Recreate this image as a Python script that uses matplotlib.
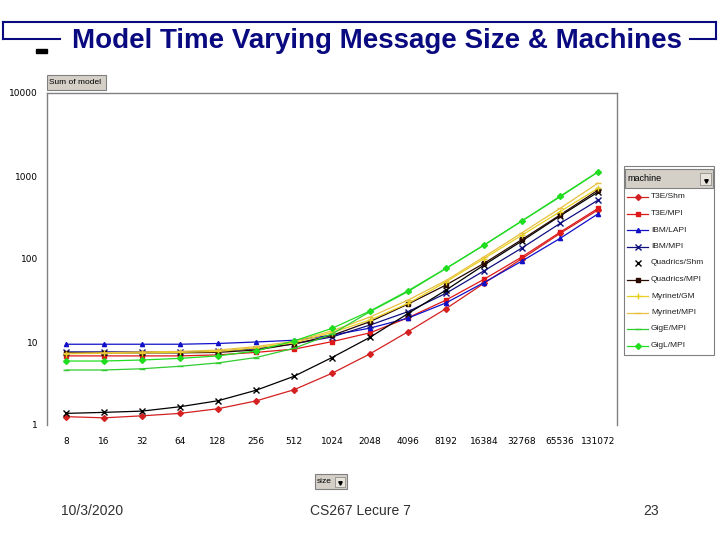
import matplotlib
matplotlib.use('Agg')
import matplotlib.pyplot as plt
from matplotlib.patches import Rectangle

# message sizes (categories on x axis)
sizes = [8, 16, 32, 64, 128, 256, 512, 1024, 2048, 4096, 8192, 16384, 32768, 65536, 131072]

machines = ["T3E/Shm", "T3E/MPI", "IBM/LAPI", "IBM/MPI", "Quadrics/Shm",
            "Quadrics/MPI", "Myrinet/GM", "Myrinet/MPI", "GigE/MPI", "GigL/MPI"]

t3e_shm = [1.26, 1.22, 1.29, 1.38, 1.57, 1.95, 2.66, 4.2, 7.2, 13.3, 25.2, 51, 101, 203, 390]
t3e_mpi = [6.8, 6.8, 6.8, 6.8, 7.0, 7.5, 8.2, 10.1, 12.9, 19.6, 32, 57, 106, 210, 407]
ibm_lapi = [9.4, 9.4, 9.4, 9.4, 9.6, 10.0, 10.5, 12.1, 14.7, 19.4, 29.6, 52, 94.5, 177, 350]
ibm_mpi = [7.6, 7.6, 7.6, 7.6, 7.7, 8.3, 9.5, 11.5, 16, 23.2, 38.6, 72, 136, 268, 512]
quad_shm = [1.38, 1.42, 1.47, 1.66, 1.96, 2.62, 3.86, 6.5, 11.4, 22, 42.2, 84.6, 165, 330, 640]
quad_mpi = [7.4, 7.4, 7.4, 7.4, 7.5, 8.0, 9.5, 12, 17.6, 28.6, 48.6, 88.6, 172, 339, 676]
myri_gm = [7.2, 7.3, 7.4, 7.5, 7.7, 8.5, 9.8, 13, 18.4, 29.2, 53, 101, 194, 372, 710]
myri_mpi = [7.3, 7.4, 7.6, 7.7, 8.0, 8.8, 10.2, 13.6, 20, 32, 55, 106, 207, 407, 820]
gige_mpi = [4.6, 4.6, 4.76, 5.1, 5.6, 6.5, 8.4, 12.5, 23.2, 40.5, 77, 147, 288, 560, 1120]
gigl_mpi = [5.9, 5.9, 6.07, 6.35, 6.8, 7.8, 10.3, 14.6, 23.6, 41.5, 77, 147, 288, 570, 1120]

series = [t3e_shm, t3e_mpi, ibm_lapi, ibm_mpi, quad_shm, quad_mpi, myri_gm, myri_mpi, gige_mpi, gigl_mpi]

# (color, marker, show line in legend)
styles = [
    ("#d42020", "D", True),
    ("#e01818", "s", True),
    ("#1010c8", "^", True),
    ("#101080", "x", True),
    ("#000000", "x", False),
    ("#2a0a00", "s", True),
    ("#e8d020", "+", True),
    ("#e8c040", "_", True),
    ("#30cc30", "_", True),
    ("#20dd20", "D", True),
]

navy = "#0a0a80"
W, H = 720, 540

fig = plt.figure(figsize=(7.2, 5.4), dpi=100, facecolor="white")


def fx(px):
    return px / W


def fy(py):
    return 1 - py / H


# ---- main plot ----
ax = fig.add_axes([fx(47), fy(425), (617 - 47) / W, (425 - 93) / H])
xs = list(range(len(sizes)))
for vals, (col, mk, _) in zip(series, styles):
    ms = 3.0 if mk in ("D", "s", "^") else 4.2
    ax.plot(xs, vals, color=col, lw=0.9, marker=mk, ms=ms, mew=1.0,
            markerfacecolor=col, markeredgecolor=col)

ax.set_yscale("log")
ax.set_ylim(1, 10000)
ax.set_xlim(-0.5, len(sizes) - 0.5)
ax.set_yticks([1, 10, 100, 1000, 10000])
ax.set_yticklabels(["1", "10", "100", "1000", "10000"])
ax.minorticks_off()
ax.set_xticks(xs)
ax.set_xticklabels([str(s) for s in sizes])
ax.tick_params(axis="both", length=0, labelsize=6.5, colors="black")
ax.tick_params(axis="x", pad=9)
ax.tick_params(axis="y", pad=6.5)
for side in ("left", "top", "right"):
    ax.spines[side].set_color("#808080")
    ax.spines[side].set_linewidth(1.0)
ax.spines["bottom"].set_visible(False)

# ---- overlay for slide decorations ----
ov = fig.add_axes([0, 0, 1, 1], facecolor="none")
ov.set_xlim(0, W)
ov.set_ylim(H, 0)
ov.axis("off")

# title bracket lines
ov.plot([3, 716], [22, 22], color=navy, lw=1.5)
ov.plot([3, 3], [22, 39], color=navy, lw=1.5)
ov.plot([3, 60], [39, 39], color=navy, lw=1.5)
ov.plot([716, 716], [22, 39], color=navy, lw=1.5)
ov.plot([690, 716], [39, 39], color=navy, lw=1.5)
ov.add_patch(Rectangle((36, 49), 11, 4, color="black"))

ov.text(376.5, 41, "Model Time Varying Message Size & Machines", color=navy,
        fontsize=20, fontweight="bold", family="Liberation Sans",
        ha="center", va="center")

# "Sum of model" button
ov.add_patch(Rectangle((47, 75), 59, 15, facecolor="#d4d0c8", edgecolor="#808080", lw=0.8))
ov.text(49, 82.5, "Sum of model", fontsize=6, ha="left", va="center", family="Liberation Sans")

# "size" button
ov.add_patch(Rectangle((315, 474), 32, 15, facecolor="#d4d0c8", edgecolor="#808080", lw=0.8))
ov.text(317, 481.5, "size", fontsize=6, ha="left", va="center", family="Liberation Sans")
ov.add_patch(Rectangle((335, 477), 10, 10, facecolor="#e8e4dc", edgecolor="#808080", lw=0.5))
ov.plot([340], [483], marker="v", ms=2.5, color="black")

# legend box
ov.add_patch(Rectangle((624, 166), 90, 189, facecolor="white", edgecolor="#808080", lw=0.8))
ov.add_patch(Rectangle((625, 169), 88, 19, facecolor="#d4d0c8", edgecolor="#808080", lw=0.8))
ov.text(627, 178.5, "machine", fontsize=6.5, ha="left", va="center", family="Liberation Sans")
ov.add_patch(Rectangle((700, 173), 11, 12, facecolor="#e8e4dc", edgecolor="#808080", lw=0.5))
ov.plot([705.5], [181], marker="v", ms=2.5, color="black")

for i, (name, (col, mk, show_line)) in enumerate(zip(machines, styles)):
    yy = 197 + i * 16.5
    ms = 3.0 if mk in ("D", "s", "^") else 4.2
    if show_line:
        ov.plot([627, 648], [yy, yy], color=col, lw=0.9)
    ov.plot([637.5], [yy], marker=mk, color=col, ms=ms, mew=1.0)
    ov.text(651, yy, name, fontsize=6, ha="left", va="center", color="#202020",
            family="Liberation Sans")

# footer
ov.text(92, 511, "10/3/2020", fontsize=10, ha="center", va="center", color="#303030",
        family="Liberation Sans")
ov.text(360, 511, "CS267 Lecure 7", fontsize=10, ha="center", va="center", color="#303030",
        family="Liberation Sans")
ov.text(651, 511, "23", fontsize=10, ha="center", va="center", color="#303030",
        family="Liberation Sans")

plt.savefig("out.png", dpi=100, facecolor="white")
plt.close()
